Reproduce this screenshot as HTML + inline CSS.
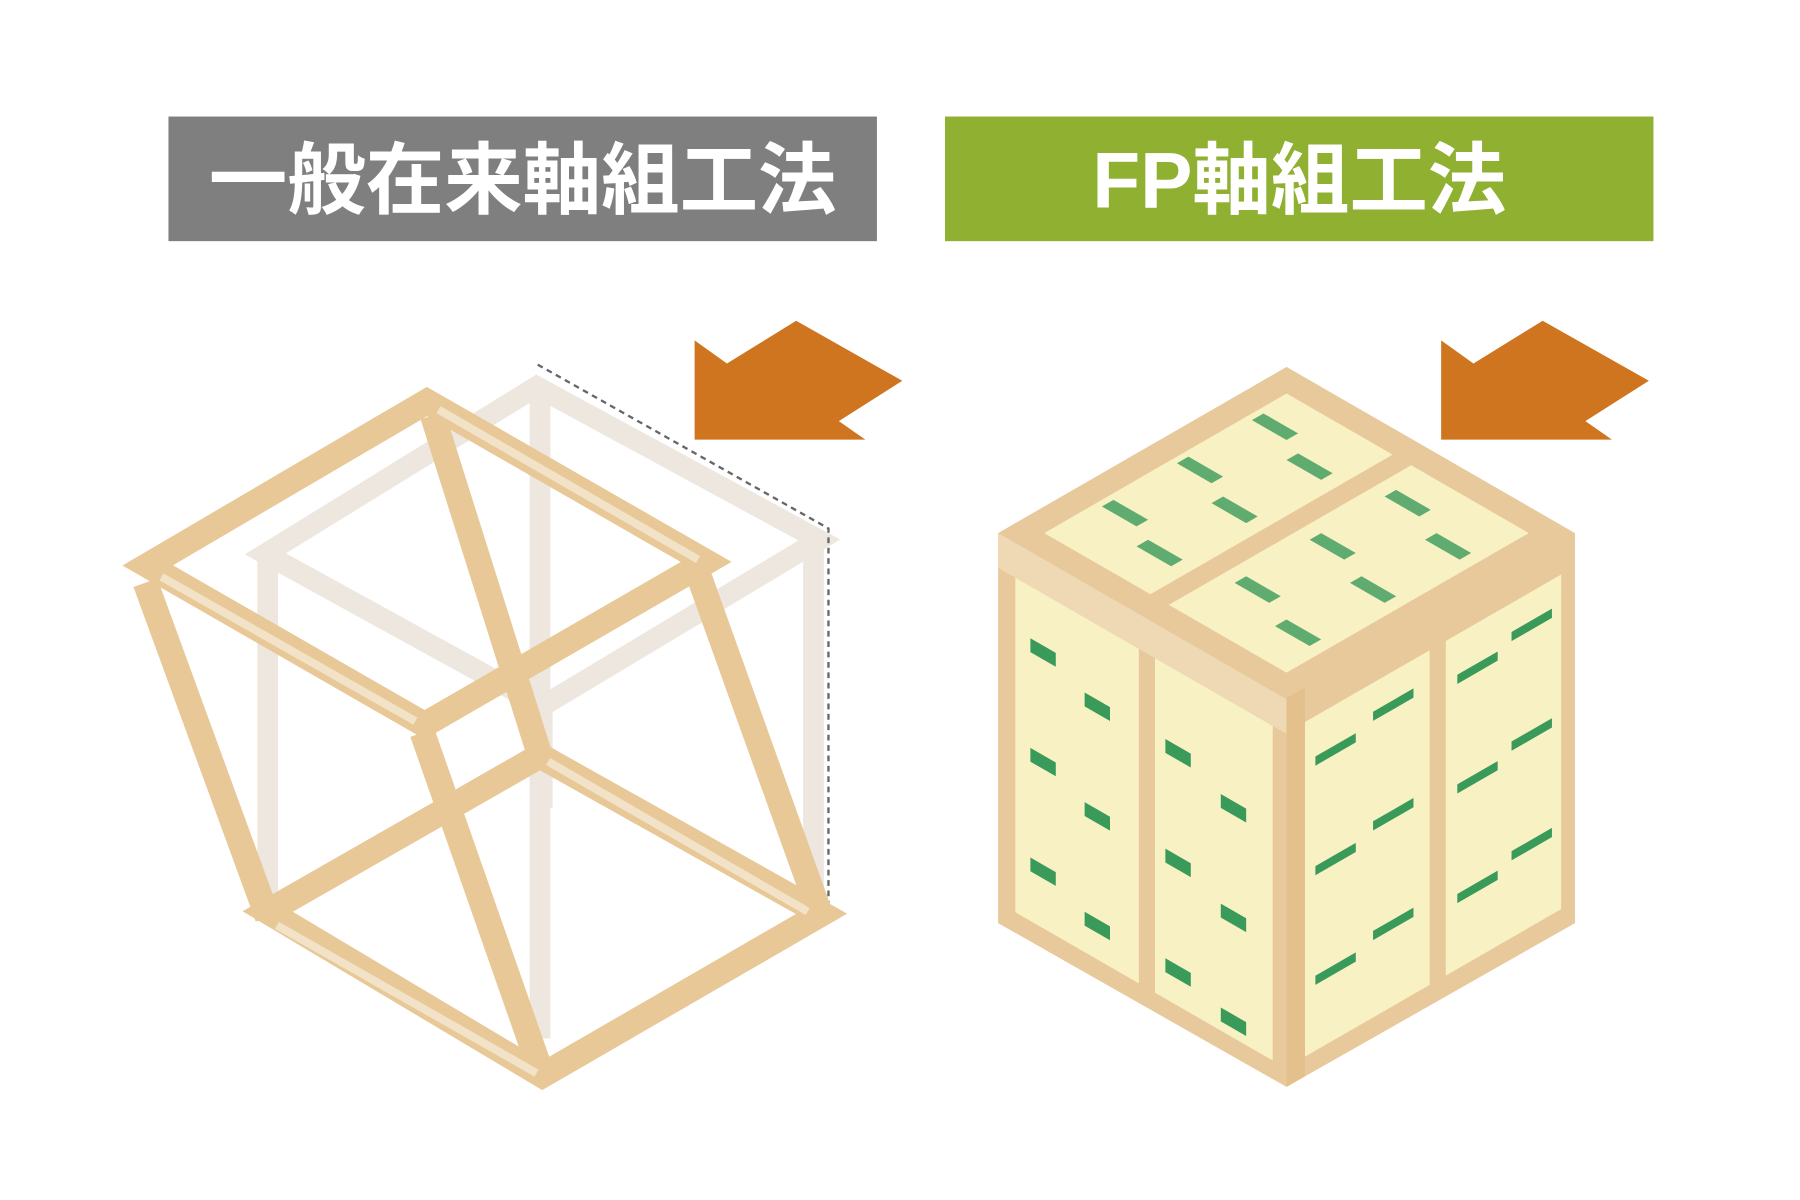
<!DOCTYPE html>
<html><head><meta charset="utf-8"><style>html,body{margin:0;padding:0;background:#fff;width:1800px;height:1200px;overflow:hidden}</style></head>
<body>
<svg width="1800" height="1200" viewBox="0 0 1560 1040" preserveAspectRatio="none" xmlns="http://www.w3.org/2000/svg">
<rect width="1560" height="1040" fill="#fff"/>
<rect x="146" y="101" width="614" height="108" fill="#7f7f7f"/>
<text x="453" y="180" text-anchor="middle" font-family="'Liberation Sans','Noto Sans CJK JP',sans-serif" font-weight="700" font-size="68" fill="#fff">一般在来軸組工法</text>
<rect x="819" y="101" width="614" height="108" fill="#8fb030"/>
<text x="1126" y="180" text-anchor="middle" font-family="'Liberation Sans','Noto Sans CJK JP',sans-serif" font-weight="700" font-size="68" fill="#fff">FP軸組工法</text>
<polygon points="690,278 782,330 727,365 750,381 602,381 602,295 630,315" fill="#cf7520"/>
<polygon points="1337,278 1429,330 1374,365 1397,381 1249,381 1249,295 1277,315" fill="#cf7520"/>
<g stroke="#ede7e0" stroke-width="18" fill="none" stroke-linejoin="miter">
<polygon points="230,480 465,335 710,468 470,612"/>
<line x1="232" y1="480" x2="232" y2="790"/>
<line x1="468" y1="335" x2="468" y2="900"/>
<line x1="705" y1="468" x2="705" y2="790"/>
<line x1="470" y1="612" x2="470" y2="700"/>
</g>
<polyline points="466,316 718,458 718,785" stroke="#666" stroke-width="2" stroke-dasharray="5,4" fill="none"/>
<g stroke="#e8c896" stroke-width="22" fill="none" stroke-linejoin="miter">
<line x1="375" y1="360" x2="468" y2="655"/>
<polygon points="232,790 468,655 712,792 470,932"/>
<polygon points="128,490 370,348 612,487 368,628"/>
<line x1="126" y1="505" x2="232" y2="795"/>
<line x1="366" y1="635" x2="470" y2="932"/>
<line x1="606" y1="500" x2="710" y2="790"/>
</g>
<g stroke="#f2e2c8" stroke-width="7" fill="none">
<line x1="140" y1="500" x2="360" y2="625"/>
<line x1="240" y1="802" x2="465" y2="930"/>
<line x1="475" y1="660" x2="700" y2="790"/>
<line x1="380" y1="355" x2="605" y2="485"/>
</g>
<g>
<polygon points="1115,318 1365,462 1365,800 1115,942 865,800 865,462" fill="#e8c99c"/>
<g transform="matrix(1,0.576,0,1,865,462)">
<rect x="15" y="30" width="107" height="290" fill="#f8f1c4"/>
<rect x="136" y="30" width="102" height="290" fill="#f8f1c4"/>
<rect x="0" y="0" width="250" height="30" fill="#efd9b5"/>
</g>
<g transform="matrix(1,-0.576,0,1,1115,605)">
<rect x="16" y="30" width="108" height="290" fill="#f8f1c4"/>
<rect x="138" y="30" width="100" height="290" fill="#f8f1c4"/>
<rect x="0" y="0" width="16" height="337" fill="#e3c08c"/>
</g>
<g transform="matrix(1,0.576,-1,0.576,1115,318)">
<rect x="20" y="20" width="92" height="210" fill="#f8f1c4"/>
<rect x="128" y="20" width="102" height="210" fill="#f8f1c4"/>
</g>
<g fill="#3a9a5a">
<g transform="matrix(1,0.576,-1,0.576,1115,318)">
<rect x="25" y="45" width="30" height="10" opacity=".8"/><rect x="70" y="60" width="30" height="10" opacity=".8"/>
<rect x="25" y="110" width="30" height="10" opacity=".8"/><rect x="70" y="125" width="30" height="10" opacity=".8"/>
<rect x="25" y="175" width="30" height="10" opacity=".8"/><rect x="70" y="190" width="30" height="10" opacity=".8"/>
<rect x="140" y="45" width="30" height="10" opacity=".8"/><rect x="190" y="60" width="30" height="10" opacity=".8"/>
<rect x="140" y="110" width="30" height="10" opacity=".8"/><rect x="190" y="125" width="30" height="10" opacity=".8"/>
<rect x="140" y="175" width="30" height="10" opacity=".8"/><rect x="190" y="190" width="30" height="10" opacity=".8"/>
</g>
<g transform="matrix(1,0.576,0,1,865,462)">
<rect x="28" y="75" width="22" height="12"/><rect x="75" y="95" width="22" height="12"/>
<rect x="28" y="170" width="22" height="12"/><rect x="75" y="190" width="22" height="12"/>
<rect x="28" y="265" width="22" height="12"/><rect x="75" y="285" width="22" height="12"/>
<rect x="145" y="95" width="22" height="12"/><rect x="193" y="115" width="22" height="12"/>
<rect x="145" y="190" width="22" height="12"/><rect x="193" y="210" width="22" height="12"/>
<rect x="145" y="285" width="22" height="12"/><rect x="193" y="300" width="22" height="12"/>
</g>
<g transform="matrix(1,-0.576,0,1,1115,605)">
<rect x="25" y="65" width="35" height="8"/><rect x="75" y="55" width="35" height="8"/>
<rect x="25" y="160" width="35" height="8"/><rect x="75" y="150" width="35" height="8"/>
<rect x="25" y="255" width="35" height="8"/><rect x="75" y="245" width="35" height="8"/>
<rect x="148" y="65" width="35" height="8"/><rect x="195" y="55" width="35" height="8"/>
<rect x="148" y="160" width="35" height="8"/><rect x="195" y="150" width="35" height="8"/>
<rect x="148" y="255" width="35" height="8"/><rect x="195" y="245" width="35" height="8"/>
</g>
</g>
</g>
</svg>
</body></html>
